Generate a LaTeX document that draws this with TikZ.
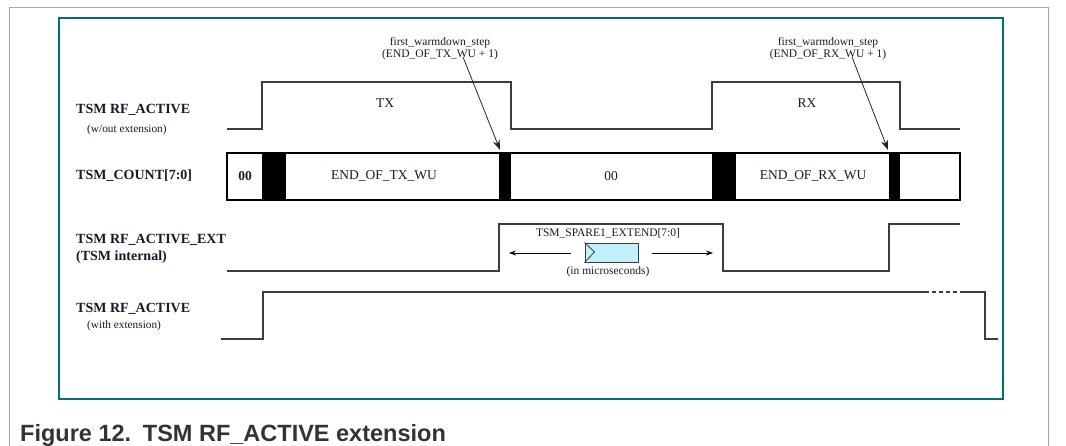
\documentclass[tikz,border=0pt]{standalone}
\usepackage{fontspec}
\setmainfont{Liberation Serif}
\newfontfamily\capfont{Liberation Sans}
\usetikzlibrary{arrows.meta}
\definecolor{frameteal}{RGB}{0,108,130}
\definecolor{txt}{RGB}{25,25,45}
\definecolor{sigc}{RGB}{60,60,60}
\definecolor{cyanbox}{RGB}{192,240,250}
\begin{document}
\begin{tikzpicture}[x=1pt,y=-1pt,
  sig/.style={draw=sigc, line width=1.2pt},
  lab/.style={font=\fontsize{14}{16}\selectfont\bfseries, anchor=base west, inner sep=0, text=txt},
  sub/.style={font=\fontsize{11.3}{13}\selectfont, anchor=base west, inner sep=0, text=txt},
  val/.style={font=\fontsize{13.5}{15}\selectfont, inner sep=0, text=txt},
  note/.style={font=\fontsize{11.5}{12}\selectfont, align=center, inner sep=0, text=txt},
  ptr/.style={-{Stealth[length=10pt,width=7pt]}, draw=black!85, line width=0.8pt},
  harr/.style={-{Stealth[length=7pt,width=5pt]}, draw=black, line width=0.9pt},
  blk/.style={fill=black}
  ]
\useasboundingbox (0,0) rectangle (1066,445);
% outer page frame and teal frame
\draw[black!35, line width=1pt] (9,460) -- (9,7) -- (1048,7) -- (1048,460);
\draw[frameteal, line width=2pt] (59,18) rectangle (1003,399);

% row labels
\node[lab] (l1) at (76,113) {TSM RF\_ACTIVE};
\node[sub] (l1s) at (87,132) {(w/out extension)};
\node[lab] (l2) at (76,179) {TSM\_COUNT[7:0]};
\node[lab] (l3) at (76,243) {TSM RF\_ACTIVE\_EXT};
\node[lab] (l3s) at (76,260) {(TSM internal)};
\node[lab] (l4) at (76,312) {TSM RF\_ACTIVE};
\node[sub] (l4s) at (87,328) {(with extension)};

% signal 1: RF_ACTIVE w/out extension
\draw[sig] (227,129) -| (262,82) -| (511,129) -| (712,82) -| (900,129) -- (960,129);
\node[val] (tx) at (385,103) {TX};
\node[val] (rx) at (807,103) {RX};

% TSM_COUNT bar
\draw[black, line width=1.2pt] (227,153) rectangle (960,200);
\fill[blk] (262,153) rectangle (286,200);
\fill[blk] (499,153) rectangle (511,200);
\fill[blk] (712,153) rectangle (736,200);
\fill[blk] (889,153) rectangle (900,200);
\node[val, font=\fontsize{13.5}{15}\selectfont\bfseries] (c0) at (245,176) {00};
\node[val] (c1) at (384,176) {END\_OF\_TX\_WU};
\node[val] (c2) at (611,176) {00};
\node[val] (c3) at (813,176) {END\_OF\_RX\_WU};

% warmdown pointers
\node[note] (n1) at (440,49) {first\_warmdown\_step\\(END\_OF\_TX\_WU + 1)};
\node[note] (n2) at (828,49) {first\_warmdown\_step\\(END\_OF\_RX\_WU + 1)};
\coordinate (s1) at (463,57);
\coordinate (t1) at (500,150);
\coordinate (s2) at (852,57);
\coordinate (t2) at (888,150);
\draw[ptr] (s1) -- (t1);
\draw[ptr] (s2) -- (t2);

% signal 3: RF_ACTIVE_EXT
\draw[sig] (227,271) -| (499,224) -| (723,271) -| (889,224) -- (960,224);
\node[note] (sl) at (608,233) {TSM\_SPARE1\_EXTEND[7:0]};
\node[draw=sigc, line width=1pt, fill=cyanbox, minimum width=53pt, minimum height=19pt, inner sep=0] (spare) at (611.5,252.5) {};
\draw[sigc, line width=0.8pt] (spare.north west) -- ++(10,9.5) -- (spare.south west);
\node[note] (us) at (608,272) {(in microseconds)};
\coordinate (la0) at (571,253);
\coordinate (la1) at (509,253);
\coordinate (ra0) at (652,253);
\coordinate (ra1) at (713,253);
\draw[harr] (la0) -- (la1);
\draw[harr] (ra0) -- (ra1);

% signal 4: RF_ACTIVE with extension
\draw[sig] (221,339) -| (263,292) -- (925,292);
\draw[sig, dash pattern=on 4pt off 3pt] (925,292) -- (963,292);
\draw[sig] (963,292) -| (985,339) -- (998,339);

% caption
\node[font=\capfont\bfseries\fontsize{23.5}{26}\selectfont, anchor=base west, inner sep=0, text=black!80] (cap) at (20,441) {Figure 12.\hspace{0.5em}TSM RF\_ACTIVE extension};
\end{tikzpicture}
\end{document}
